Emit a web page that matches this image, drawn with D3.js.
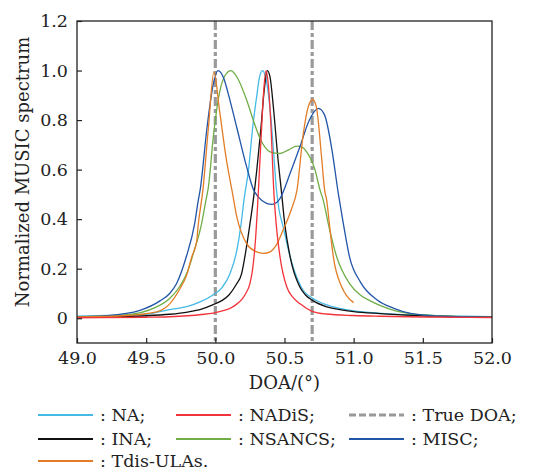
<!DOCTYPE html>
<html>
<head>
<meta charset="utf-8">
<script src="https://cdn.jsdelivr.net/npm/d3@7"></script>
<style>
  body { margin: 0; background: #fff; }
  svg text { font-family: "DejaVu Serif", serif; fill: #222; }
</style>
</head>
<body>
<div id="chart"></div>
<script>
// [DOA (deg), normalized spectrum]
const naData = [[49.0,0.008],[49.3,0.012],[49.5,0.016],[49.67,0.035],[49.8,0.048],[49.89,0.066],[49.98,0.093],[50.05,0.125],[50.106,0.18],[50.15,0.26],[50.186,0.38],[50.207,0.477],[50.24,0.6],[50.27,0.77],[50.3,0.9],[50.32,0.975],[50.34,1.0],[50.36,0.98],[50.38,0.92],[50.40,0.82],[50.42,0.68],[50.44,0.53],[50.46,0.44],[50.49,0.37],[50.54,0.25],[50.6,0.15],[50.634,0.113],[50.7,0.082],[50.8,0.055],[50.9,0.04],[51.0,0.03],[51.2,0.02],[51.5,0.012],[51.8,0.008],[52.0,0.006]];
const inaData = [[49.0,0.004],[49.3,0.007],[49.5,0.01],[49.67,0.016],[49.8,0.025],[49.9,0.037],[49.985,0.055],[50.05,0.072],[50.1,0.095],[50.15,0.135],[50.19,0.18],[50.22,0.27],[50.25,0.38],[50.275,0.48],[50.3,0.6],[50.33,0.77],[50.355,0.93],[50.376,1.0],[50.395,0.975],[50.42,0.85],[50.45,0.66],[50.48,0.5],[50.5,0.39],[50.54,0.25],[50.61,0.127],[50.65,0.095],[50.7,0.073],[50.8,0.047],[50.9,0.035],[51.0,0.027],[51.19,0.019],[51.5,0.01],[51.8,0.006],[52.0,0.004]];
const nadisData = [[49.0,0.002],[49.5,0.004],[49.67,0.006],[49.8,0.01],[49.9,0.015],[49.985,0.021],[50.05,0.03],[50.106,0.04],[50.15,0.055],[50.19,0.075],[50.22,0.1],[50.25,0.14],[50.27,0.2],[50.29,0.315],[50.31,0.5],[50.33,0.72],[50.35,0.92],[50.366,1.0],[50.38,0.96],[50.4,0.8],[50.424,0.5],[50.44,0.38],[50.467,0.25],[50.516,0.127],[50.56,0.085],[50.61,0.059],[50.7,0.028],[50.8,0.017],[51.0,0.011],[51.19,0.008],[51.5,0.005],[52.0,0.003]];
const nsancsData = [[49.0,0.006],[49.33,0.012],[49.576,0.046],[49.67,0.08],[49.745,0.13],[49.8,0.19],[49.84,0.26],[49.9,0.38],[49.93,0.47],[49.95,0.53],[49.985,0.73],[50.03,0.91],[50.07,0.98],[50.113,1.0],[50.16,0.97],[50.227,0.88],[50.28,0.79],[50.32,0.73],[50.36,0.69],[50.395,0.672],[50.467,0.665],[50.53,0.68],[50.59,0.695],[50.63,0.69],[50.66,0.672],[50.72,0.6],[50.757,0.517],[50.78,0.477],[50.817,0.38],[50.877,0.248],[50.97,0.14],[51.05,0.093],[51.12,0.07],[51.19,0.052],[51.29,0.032],[51.4,0.02],[51.55,0.012],[51.8,0.006],[52.0,0.004]];
const miscData = [[49.0,0.005],[49.21,0.01],[49.455,0.032],[49.6,0.07],[49.67,0.1],[49.72,0.14],[49.79,0.248],[49.85,0.38],[49.877,0.477],[49.89,0.517],[49.94,0.77],[49.98,0.93],[50.02,1.0],[50.06,0.97],[50.094,0.905],[50.155,0.77],[50.227,0.61],[50.275,0.52],[50.31,0.49],[50.37,0.464],[50.41,0.46],[50.44,0.466],[50.467,0.483],[50.54,0.584],[50.61,0.69],[50.68,0.8],[50.745,0.847],[50.79,0.82],[50.84,0.69],[50.89,0.5],[50.925,0.383],[50.97,0.248],[51.05,0.145],[51.17,0.074],[51.29,0.04],[51.41,0.02],[51.65,0.008],[52.0,0.004]];
const tdisData = [[49.0,0.005],[49.33,0.01],[49.576,0.026],[49.67,0.058],[49.745,0.12],[49.79,0.17],[49.83,0.248],[49.865,0.31],[49.877,0.38],[49.91,0.517],[49.95,0.77],[49.99,0.995],[50.03,0.84],[50.08,0.64],[50.12,0.517],[50.155,0.41],[50.227,0.3],[50.29,0.27],[50.35,0.262],[50.395,0.268],[50.44,0.295],[50.49,0.356],[50.55,0.44],[50.59,0.517],[50.636,0.745],[50.67,0.85],[50.704,0.883],[50.73,0.853],[50.77,0.638],[50.79,0.517],[50.805,0.477],[50.824,0.383],[50.853,0.248],[50.913,0.127],[50.95,0.09],[51.0,0.063]];

const trueDoa = [50.0, 50.7];
const xTicks = [49.0, 49.5, 50.0, 50.5, 51.0, 51.5, 52.0];
const yTicks = [0, 0.2, 0.4, 0.6, 0.8, 1.0, 1.2];

const series = [
    { name: "NA", data: naData, color: "#45b9e6" },
    { name: "INA", data: inaData, color: "#111111" },
    { name: "NSANCS", data: nsancsData, color: "#70ad47" },
    { name: "MISC", data: miscData, color: "#2155a8" },
    { name: "Tdis-ULAs", data: tdisData, color: "#e27d26" },
    { name: "NADiS", data: nadisData, color: "#f2333a" }
];

// legend order as in the picture: row by row, three columns
const legendItems = [
    { label: ": NA;", color: "#45b9e6" },
    { label: ": NADiS;", color: "#f2333a" },
    { label: ": True DOA;", color: "#999999", dashed: true },
    { label: ": INA;", color: "#111111" },
    { label: ": NSANCS;", color: "#70ad47" },
    { label: ": MISC;", color: "#2155a8" },
    { label: ": Tdis-ULAs.", color: "#e27d26" }
];

const W = 535, H = 471;
const M = { left: 77, top: 21, right: 492, bottom: 343 };

const x = d3.scaleLinear().domain([49, 52]).range([M.left, M.right]);
const y = d3.scaleLinear().domain([-0.1, 1.2]).range([M.bottom, M.top]);

const svg = d3.select("#chart").append("svg")
    .attr("width", W).attr("height", H)
    .attr("viewBox", [0, 0, W, H]);

svg.append("defs").append("clipPath").attr("id", "plot")
    .append("rect")
    .attr("x", M.left).attr("y", M.top)
    .attr("width", M.right - M.left).attr("height", M.bottom - M.top);

// true DOA markers
svg.append("g").attr("clip-path", "url(#plot)")
    .selectAll("line").data(trueDoa).join("line")
    .attr("x1", d => x(d)).attr("x2", d => x(d))
    .attr("y1", M.top).attr("y2", M.bottom)
    .attr("stroke", "#9a9a9a").attr("stroke-width", 3.2)
    .attr("stroke-dasharray", "9,3,4,3");

const line = d3.line()
    .x(d => x(d[0])).y(d => y(d[1]))
    .curve(d3.curveMonotoneX);

svg.append("g").attr("clip-path", "url(#plot)")
    .selectAll("path").data(series).join("path")
    .attr("d", d => line(d.data))
    .attr("fill", "none")
    .attr("stroke", d => d.color)
    .attr("stroke-width", 1.3);

// axes with inward ticks
const xAxis = svg.append("g")
    .attr("transform", `translate(0,${M.bottom})`)
    .call(d3.axisBottom(x).tickValues(xTicks).tickFormat(d3.format(".1f"))
        .tickSizeInner(-5).tickSizeOuter(0).tickPadding(9));

const yAxis = svg.append("g")
    .attr("transform", `translate(${M.left},0)`)
    .call(d3.axisLeft(y).tickValues(yTicks).tickFormat(d => d === 0 ? "0" : d3.format(".1f")(d))
        .tickSizeInner(-5).tickSizeOuter(0).tickPadding(9));

[xAxis, yAxis].forEach(g => {
    g.attr("font-family", "DejaVu Serif");
    g.select(".domain").remove();
    g.selectAll(".tick line").attr("stroke", "#222").attr("stroke-width", 1.2);
    g.selectAll(".tick text").attr("font-size", 17.5).attr("fill", "#222");
});

// frame
svg.append("rect")
    .attr("x", M.left).attr("y", M.top)
    .attr("width", M.right - M.left).attr("height", M.bottom - M.top)
    .attr("fill", "none").attr("stroke", "#222").attr("stroke-width", 1.3);

svg.append("text")
    .attr("x", (M.left + M.right) / 2).attr("y", 389)
    .attr("text-anchor", "middle").attr("font-size", 18)
    .text("DOA/(°)");

svg.append("text")
    .attr("transform", "translate(29,172) rotate(-90)")
    .attr("text-anchor", "middle").attr("font-size", 18)
    .text("Normalized MUSIC spectrum");

// legend
const colX = [38, 176, 349];
const rowY = [415, 439, 461];
const legend = svg.append("g")
    .selectAll("g").data(legendItems).join("g")
    .attr("transform", (d, i) => `translate(${colX[i % 3]},${rowY[Math.floor(i / 3)]})`);

legend.append("line")
    .attr("x1", 0).attr("x2", 55).attr("y1", 0).attr("y2", 0)
    .attr("stroke", d => d.color)
    .attr("stroke-width", d => d.dashed ? 3 : 1.8)
    .attr("stroke-dasharray", d => d.dashed ? "7,3" : null);

legend.append("text")
    .attr("x", 62).attr("y", 6)
    .attr("font-size", 17.5)
    .text(d => d.label);
</script>
</body>
</html>
